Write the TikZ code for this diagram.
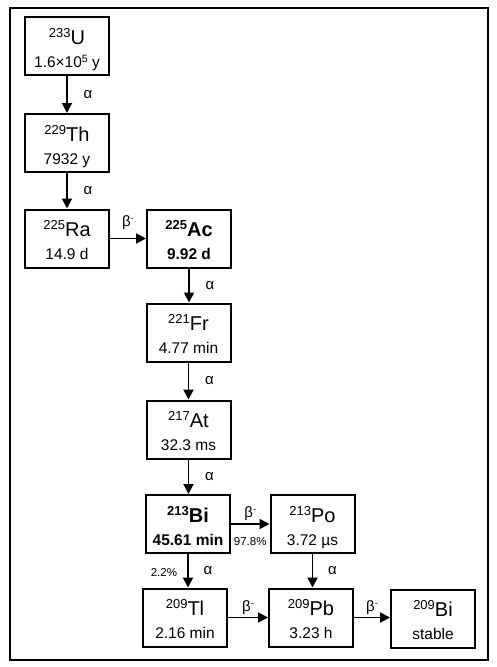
\documentclass[tikz,border=0pt]{standalone}
\usepackage{fontspec}
\setmainfont{Liberation Sans}
\usetikzlibrary{arrows.meta,calc}
\newcommand\iso[2]{\raisebox{7pt}{\fontsize{13}{13}\selectfont #1}#2}
\newcommand\bminus{β\raisebox{5pt}{\fontsize{9}{9}\selectfont -}}
\tikzset{
  nucbox/.style={draw, line width=2pt, minimum width=84pt, minimum height=58pt, inner sep=0pt},
  arr/.style={line width=1.9pt, -{Triangle[length=10pt,width=10pt]}},
  eltxt/.style={anchor=base, font=\fontsize{20}{20}\selectfont, inner sep=0pt},
  hltxt/.style={anchor=base, font=\fontsize{15.5}{16}\selectfont, inner sep=0pt},
  lab/.style={font=\fontsize{15}{15}\selectfont, inner sep=0pt},
  pct/.style={font=\fontsize{11.5}{12}\selectfont, inner sep=0pt},
}
\begin{document}
\begin{tikzpicture}[x=1pt,y=-1pt]
\useasboundingbox (0,0) rectangle (497,667);
\fill[white] (0,0) rectangle (497,667);
\draw[line width=1.5pt] (10,8) rectangle (488,660);

% boxes
\node[nucbox] (u)   at (67,46)    {};
\node[nucbox] (th)  at (67,143)   {};
\node[nucbox] (ra)  at (67,238.5) {};
\node[nucbox] (ac)  at (189,238.5){};
\node[nucbox] (fr)  at (188.5,332.5){};
\node[nucbox] (at)  at (188.5,429.5){};
\node[nucbox] (bi)  at (188,524)  {};
\node[nucbox] (po)  at (312.5,524){};
\node[nucbox] (tl)  at (185,617.5){};
\node[nucbox] (pb)  at (311,617.5){};
\node[nucbox] (bis) at (433,618.5){};

% texts
\node[eltxt] (u-e)  at ($(u.center)+(0,-2)$)  {\iso{233}{U}};
\node[hltxt] (u-h)  at ($(u.center)+(0,21)$)  {1.6×10\raisebox{5pt}{\fontsize{10.5}{10}\selectfont 5} y};
\node[eltxt] (th-e) at ($(th.center)+(0,-2)$) {\iso{229}{Th}};
\node[hltxt] (th-h) at ($(th.center)+(0,21)$) {7932 y};
\node[eltxt] (ra-e) at ($(ra.center)+(0,-2)$) {\iso{225}{Ra}};
\node[hltxt] (ra-h) at ($(ra.center)+(0,21)$) {14.9 d};
\node[eltxt] (ac-e) at ($(ac.center)+(0,-2)$) {\bfseries\iso{225}{Ac}};
\node[hltxt] (ac-h) at ($(ac.center)+(0,21)$) {\bfseries 9.92 d};
\node[eltxt] (fr-e) at ($(fr.center)+(0,-2)$) {\iso{221}{Fr}};
\node[hltxt] (fr-h) at ($(fr.center)+(0,21)$) {4.77 min};
\node[eltxt] (at-e) at ($(at.center)+(0,-2)$) {\iso{217}{At}};
\node[hltxt] (at-h) at ($(at.center)+(0,21)$) {32.3 ms};
\node[eltxt] (bi-e) at ($(bi.center)+(0,-2)$) {\bfseries\iso{213}{Bi}};
\node[hltxt] (bi-h) at ($(bi.center)+(0,21)$) {\bfseries 45.61 min};
\node[eltxt] (po-e) at ($(po.center)+(0,-2)$) {\iso{213}{Po}};
\node[hltxt] (po-h) at ($(po.center)+(0,21)$) {3.72 µs};
\node[eltxt] (tl-e) at ($(tl.center)+(0,-2)$) {\iso{209}{Tl}};
\node[hltxt] (tl-h) at ($(tl.center)+(0,21)$) {2.16 min};
\node[eltxt] (pb-e) at ($(pb.center)+(0,-2)$) {\iso{209}{Pb}};
\node[hltxt] (pb-h) at ($(pb.center)+(0,21)$) {3.23 h};
\node[eltxt] (bis-e) at ($(bis.center)+(0,-2)$) {\iso{209}{Bi}};
\node[hltxt] (bis-h) at ($(bis.center)+(0,21)$) {stable};

% arrows
\draw[arr] (u.south) -- (u.south |- th.north) node[lab, midway, xshift=21pt] (l1) {α};
\draw[arr] (th.south) -- (th.south |- ra.north) node[lab, midway, xshift=21pt] (l2) {α};
\draw[arr] (ra.east) -- (ra.east -| ac.west) node[lab, midway, yshift=16pt] (l3) {\bminus};
\draw[arr] (ac.south) -- (ac.south |- fr.north) node[lab, midway, xshift=21pt] (l4) {α};
\draw[arr] (fr.south) -- (fr.south |- at.north) node[lab, midway, xshift=21pt] (l5) {α};
\draw[arr] (at.south) -- (at.south |- bi.north) node[lab, midway, xshift=21pt] (l6) {α};
\draw[arr] (bi.east) -- (bi.east -| po.west) node[lab, midway, yshift=10pt] (l7) {\bminus}
  node[pct, midway, yshift=-18pt] (p1) {97.8\%};
\draw[arr] (bi.south) -- (bi.south |- tl.north) node[lab, midway, xshift=20pt] (l8) {α}
  node[pct, midway, anchor=east, xshift=-10pt, yshift=-2pt] (p2) {2.2\%};
\draw[arr] (po.south) -- (po.south |- pb.north) node[lab, midway, xshift=20pt] (l9) {α};
\draw[arr] (tl.east) -- (tl.east -| pb.west) node[lab, midway, yshift=10pt] (l10) {\bminus};
\draw[arr] (pb.east) -- (pb.east -| bis.west) node[lab, midway, yshift=10pt] (l11) {\bminus};
\end{tikzpicture}
\end{document}
